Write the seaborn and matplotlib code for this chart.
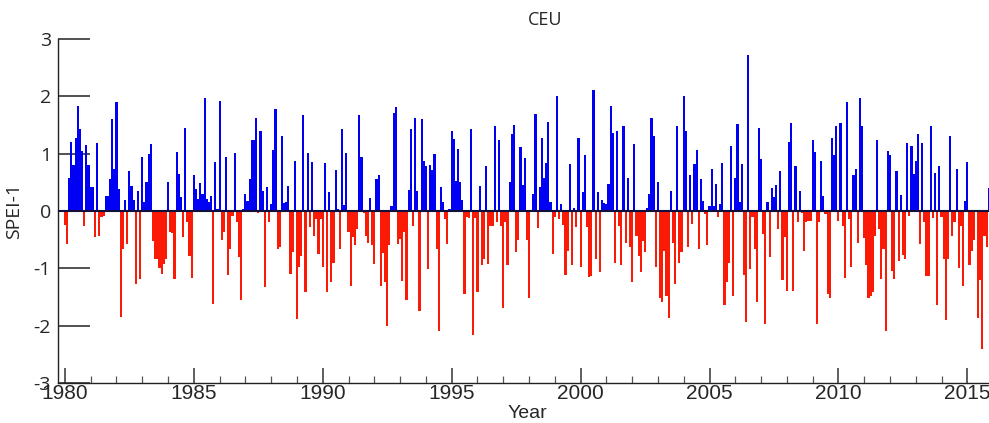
import numpy as np
import pandas as pd
import matplotlib
matplotlib.use("Agg")
import matplotlib.pyplot as plt
import seaborn as sns

# Monthly SPEI-1 values for CEU, Jan 1980 - Dec 2015
spei_1980_1983 = [-0.24, -0.58, 0.58, 1.21, 0.80, 1.27, 1.84, 1.43, 1.05, -0.26, 1.15, 0.80,
                  0.41, 0.41, -0.46, 1.19, -0.43, -0.11, -0.09, 0.27, 0.27, 0.55, 1.6, 0.74,
                  1.9, 0.38, -1.85, -0.66, 0.2, -0.58, 0.70, 0.44, 0.2, -1.27, 0.35, -1.19,
                  0.94, 0.16, 0.5, 1.0, 1.16, -0.52, -0.83, -0.84, -1.0, -1.1, -0.92, -0.84]
spei_1984_1987 = [0.5, -0.37, -0.38, -1.19, 1.03, 0.64, 0.24, -0.46, 1.45, -0.2, -0.78, -1.17,
                  0.63, 0.38, 0.21, 0.49, 0.3, 1.97, 0.21, 0.15, 0.27, -1.62, 0.86, 0.03,
                  1.92, -0.5, -0.37, 0.95, -1.12, -0.67, -0.08, 1.01, -0.2, -0.81, -1.56, 0.03,
                  0.3, 0.18, 0.56, 1.23, 1.23, 1.62, -0.03, 1.4, 0.34, -1.33, 0.41]
spei_1987_1991 = [-0.2, 0.12, 1.07, 1.78, -0.67, -0.62, 1.31, 0.14, 0.15, 0.43, -1.1, -0.72,
                  0.87, -1.88, -0.98, -0.78, 1.67, -1.42, 1.01, -0.28, 0.85, -0.43, -0.14, -0.75,
                  -0.14, -0.98, 0.83, -1.42, 0.33, -1.24, -0.9, 0.72, 0.03, -0.66, 1.43, 0.1,
                  1.01, -0.37, -1.3, -0.46, -0.59, -0.31, 1.67, 0.94, -0.03, -0.43, -0.55, 0.22]
spei_1991_1995 = [-0.6, -0.92, 0.55, 0.62, -1.3, -0.73, -1.24, -2.0, -0.6, 0.09, 1.71, 1.81,
                  -0.58, -0.49, -1.22, -0.36, -1.56, 0.37, 1.43, -0.26, 1.62, 0.34, -1.74, 1.6,
                  0.88, 0.79, -1.01, 0.8, 0.72, 0.99, -0.66, -2.09, 0.41, 0.15, -0.14, -0.58,
                  0.03, 1.4, 1.26, 0.53, 1.09, 0.51, 0.2, -1.45, -0.11, -0.13, 1.43, -2.16, -0.13]
spei_1996_1999 = [-1.42, 0.44, -0.95, -0.83, 0.78, -0.92, -0.26, -0.26, 1.49, -0.2, 1.24, -0.27,
                  -1.7, -0.2, -0.95, 0.5, 1.34, 1.5, -0.71, -0.51, 1.11, 0.46, 0.92, -0.5,
                  -1.51, -0.02, 0.3, 1.69, -0.3, 0.41, 1.27, 0.57, 0.83, 1.56, 0.16, -0.75,
                  -0.11, 2.01, -0.14, 0.12, -0.24, -1.12, -0.69, 0.82, -0.95, 0.06, -0.28, 1.28]
spei_2000_2003 = [-0.98, 0.33, 0.97, -0.28, -1.16, -1.14, 2.11, -0.84, 0.33, -1.06, 0.2, 0.14,
                  0.12, 0.47, 1.83, 1.36, -0.9, 1.4, -0.26, -0.94, 1.49, -0.55, 0.57, -0.63,
                  -1.24, 1.17, -0.43, -0.78, -1.06, -0.52, -0.72, 0.06, 0.3, 1.63, 1.31, -0.97,
                  0.5, -1.51, -1.58, -0.69, -1.48, -1.87, 0.35, -0.55, -1.27, 1.48, -0.9, -0.72]
spei_2004_2008 = [2.01, 1.4, -0.63, 0.63, -0.23, 0.82, 1.07, -0.66, 0.55, 0.18, -0.05, -0.59,
                  0.09, 0.74, 0.09, 0.47, -0.11, 0.12, 0.83, -1.64, -1.23, -0.9, 1.14, -1.48,
                  0.58, 1.51, 0.15, 0.82, -1.12, -1.94, 2.72, -1.01, -0.11, -0.66, -1.59, 1.45,
                  0.91, -0.4, -1.97, 0.16, -0.81, 0.4, 0.24, 0.45, -0.31, 0.7, -1.2, -0.46, -1.39]
spei_2008_2012 = [1.2, 1.53, -1.39, 0.79, -0.19, 0.34, -0.03, -0.69, -0.2, -0.17, -0.17, 1.23,
                  1.03, -1.97, -0.2, 0.87, 0.26, -0.05, -1.45, -1.51, 1.27, 0.98, 1.49, -0.17,
                  1.53, -0.26, -1.17, 1.9, -0.14, -0.98, 0.63, 0.73, -0.55, 1.97, 1.48, -0.47,
                  -0.95, -1.52, -1.48, -1.42, -0.43, 1.23, -0.31, -1.19, -0.66, -2.09, 1.05, 0.98]
spei_2012_2015 = [-1.04, -1.19, 0.7, -0.87, 0.28, -0.77, -0.84, 1.19, -0.09, 1.14, 0.65, 0.88,
                  1.35, -0.58, 1.18, -0.2, -1.13, -1.14, 1.49, -0.12, 0.67, -1.64, 0.79, -0.11,
                  -0.84, -1.9, -0.84, 1.31, -0.43, -0.19, 0.73, -1.0, -0.26, -1.31, 0.18, 0.86,
                  -0.95, -0.69, -0.5, 0.02, -1.87, -1.2, -2.41, -0.43, -0.63, 0.4, -1.85]

start_year = 1980
year_ticks = [1980, 1985, 1990, 1995, 2000, 2005, 2010, 2015]
y_ticks = [-3, -2, -1, 0, 1, 2, 3]
title = "CEU"
x_label = "Year"
y_label = "SPEI-1"

values = np.concatenate([spei_1980_1983, spei_1984_1987, spei_1987_1991, spei_1991_1995,
                         spei_1996_1999, spei_2000_2003, spei_2004_2008, spei_2008_2012,
                         spei_2012_2015])
dates = start_year + np.arange(len(values)) / 12.0
df = pd.DataFrame({"date": dates, "spei": values,
                   "sign": np.where(values >= 0, "pos", "neg")})

sns.set_style("white")
plt.rcParams["font.family"] = ["Open Sans", "DejaVu Sans"]

fig = plt.figure(figsize=(9.89, 4.23), dpi=100)
ax = fig.add_axes([0.0586, 0.0946, 0.9414, 0.8132])

sns.barplot(data=df, x="date", y="spei", hue="sign",
            palette={"pos": "#0000f5", "neg": "#fa1a05"}, saturation=1,
            native_scale=True, width=1.0, errorbar=None, dodge=False,
            legend=False, linewidth=0, ax=ax)

ax.axhline(0, color="#10103a", lw=1.5, zorder=3)
ax.set_xlim(1979.73, 2015.84)
ax.set_ylim(-3, 3)

ax.set_xticks(year_ticks)
ax.set_xticks(np.arange(1980, 2016), minor=True)
ax.set_xticklabels([str(y) for y in year_ticks], family="Liberation Sans", fontsize=15)
ax.set_yticks(y_ticks)
ax.set_yticklabels([str(v) for v in y_ticks], fontsize=14)

ax.tick_params(axis="y", which="major", direction="in", length=23, width=1.1,
               color="#222222", pad=5, left=True)
ax.tick_params(axis="x", which="major", direction="in", length=11, width=1.1,
               color="#333333", pad=1, bottom=True)
ax.tick_params(axis="x", which="minor", direction="in", length=5, width=0.9,
               color="#555555", bottom=True)

for s in ["top", "right"]:
    ax.spines[s].set_visible(False)
for s in ["left", "bottom"]:
    ax.spines[s].set_color("#222222")
    ax.spines[s].set_linewidth(1.0)

ax.set_xlabel("")
ax.set_ylabel(y_label, fontsize=14, labelpad=4)
ax.yaxis.set_label_coords(-0.038, 0.5)

fig.text(545 / 989, 1 - 20 / 423, title, ha="center", va="center", fontsize=13)
fig.text(527 / 989, 1 - 405 / 423, x_label, ha="center", va="top", fontsize=14,
         family="Liberation Sans")

fig.savefig("out.png", dpi=100)
